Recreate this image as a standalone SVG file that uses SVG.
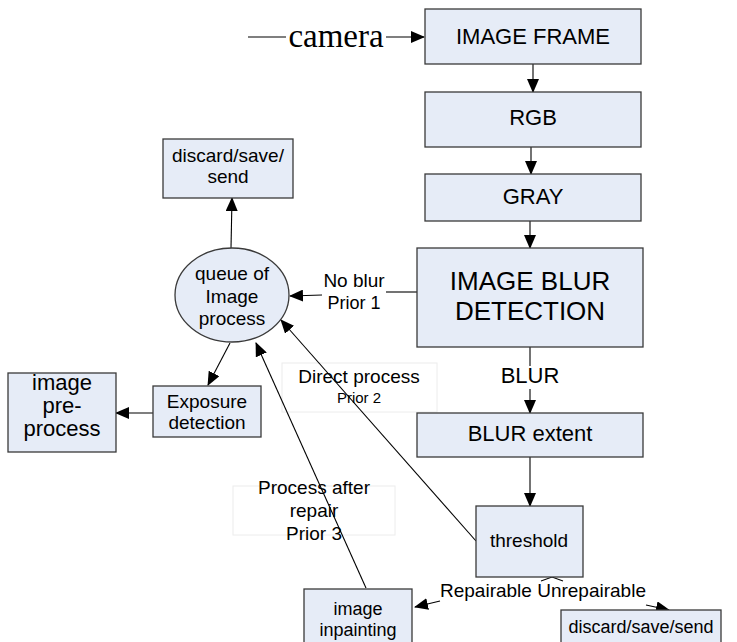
<svg xmlns="http://www.w3.org/2000/svg" width="737" height="642" viewBox="0 0 737 642">
<defs>
<marker id="ah" markerUnits="userSpaceOnUse" markerWidth="14" markerHeight="12" viewBox="0 0 14 12" refX="13" refY="6" orient="auto">
<path d="M0,0 L14,6 L0,12 Z" fill="#000"/>
</marker>
</defs>
<style>
.box{fill:#e6ecf7;stroke:#3a3a3a;stroke-width:1.3}
.lbl{fill:#fff;stroke:#ececec;stroke-width:1}
.t{font-family:"Liberation Sans",Arial,sans-serif;fill:#000;text-anchor:middle}
.c{fill:none;stroke:#000;stroke-width:1.1}
.a{fill:none;stroke:#000;stroke-width:1.1;marker-end:url(#ah)}
</style>
<rect width="737" height="642" fill="#fff"/>
<g id="label-direct"><rect class="lbl" x="282" y="363" width="155" height="49"/>
<text class="t" x="359" y="383" font-size="19">Direct process</text>
<text class="t" x="359" y="403" font-size="15">Prior 2</text></g>
<g id="label-repair"><rect class="lbl" x="233" y="486" width="162" height="49"/>
<text class="t" x="314" y="494" font-size="19">Process after</text>
<text class="t" x="314" y="517" font-size="19">repair</text>
<text class="t" x="314" y="540" font-size="19">Prior 3</text></g>
<g id="connectors">
<line class="c" x1="248" y1="37" x2="286" y2="37"/>
<line class="a" x1="386" y1="37" x2="424" y2="37"/>
<line class="a" x1="533" y1="64" x2="533" y2="92"/>
<line class="a" x1="531" y1="147" x2="531" y2="174"/>
<line class="a" x1="530" y1="221" x2="530" y2="248"/>
<line class="c" x1="417" y1="292" x2="386" y2="292"/>
<line class="a" x1="322" y1="295" x2="290" y2="296"/>
<line class="c" x1="530" y1="347" x2="530" y2="366"/>
<line class="a" x1="530" y1="389" x2="530" y2="413"/>
<line class="a" x1="530" y1="457" x2="530" y2="506"/>
<line class="a" x1="231" y1="248" x2="232" y2="198"/>
<line class="a" x1="230" y1="343" x2="208" y2="385"/>
<line class="a" x1="153" y1="413" x2="116" y2="413"/>
<line class="a" x1="476" y1="541" x2="281" y2="320"/>
<line class="a" x1="366" y1="588" x2="256" y2="343"/>
<polyline class="c" points="541,581 552,577 563,581"/>
<line class="a" x1="440" y1="601" x2="415" y2="607"/>
<line class="a" x1="646" y1="605" x2="669" y2="610"/>
</g>
<g id="camera"><text x="336" y="47" font-family="'Liberation Serif','Times New Roman',serif" font-size="33" text-anchor="middle">camera</text></g>
<g id="image-frame"><rect class="box" x="425" y="9" width="216" height="55"/>
<text class="t" x="533" y="44" font-size="22">IMAGE FRAME</text></g>
<g id="rgb"><rect class="box" x="425" y="92" width="216" height="55"/>
<text class="t" x="533" y="125" font-size="22">RGB</text></g>
<g id="gray"><rect class="box" x="425" y="174" width="216" height="47"/>
<text class="t" x="533" y="204" font-size="22">GRAY</text></g>
<g id="blur-detection"><rect class="box" x="417" y="248" width="226" height="99"/>
<text class="t" x="530" y="290" font-size="26">IMAGE BLUR</text>
<text class="t" x="530" y="320" font-size="26">DETECTION</text></g>
<g id="no-blur-label"><text class="t" x="354" y="287" font-size="19">No blur</text>
<text class="t" x="354" y="309" font-size="18">Prior 1</text></g>
<g id="blur-label"><text class="t" x="530" y="383" font-size="22">BLUR</text></g>
<g id="blur-extent"><rect class="box" x="417" y="413" width="226" height="44"/>
<text class="t" x="530" y="441" font-size="22">BLUR extent</text></g>
<g id="threshold"><rect class="box" x="476" y="506" width="107" height="71"/>
<text class="t" x="529" y="547" font-size="19">threshold</text></g>
<g id="repair-label"><text class="t" x="543" y="597" font-size="19">Repairable Unrepairable</text></g>
<g id="inpainting"><rect class="box" x="304" y="589" width="108" height="60"/>
<text class="t" x="358" y="615" font-size="18">image</text>
<text class="t" x="358" y="636" font-size="18">inpainting</text></g>
<g id="discard-bottom"><rect class="box" x="561" y="610" width="160" height="40"/>
<text class="t" x="641" y="633" font-size="18">discard/save/send</text></g>
<g id="queue"><ellipse class="box" cx="232" cy="295" rx="57" ry="47"/>
<text class="t" x="232" y="280" font-size="19">queue of</text>
<text class="t" x="232" y="303" font-size="19">Image</text>
<text class="t" x="232" y="325" font-size="19">process</text></g>
<g id="discard-top"><rect class="box" x="163" y="139" width="130" height="59"/>
<text class="t" x="228" y="162" font-size="19">discard/save/</text>
<text class="t" x="228" y="183" font-size="19">send</text></g>
<g id="exposure"><rect class="box" x="153" y="386" width="108" height="51"/>
<text class="t" x="207" y="408" font-size="19">Exposure</text>
<text class="t" x="207" y="429" font-size="19">detection</text></g>
<g id="preprocess"><rect class="box" x="8" y="373" width="108" height="79"/>
<text class="t" x="62" y="390" font-size="22">image</text>
<text class="t" x="62" y="413" font-size="22">pre-</text>
<text class="t" x="62" y="436" font-size="22">process</text></g>
</svg>
